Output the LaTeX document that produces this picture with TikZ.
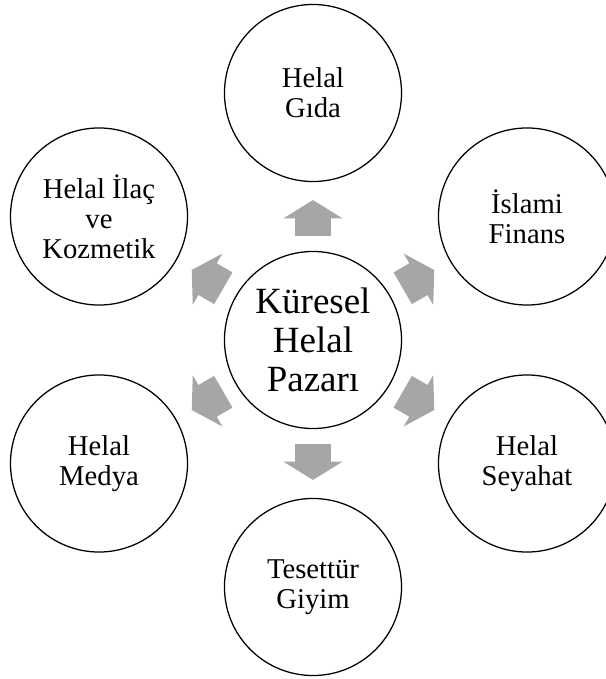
\documentclass[tikz,border=0pt]{standalone}
\usepackage{fontspec}
\setmainfont{Liberation Serif}
\usetikzlibrary{arrows.meta, calc}
\tikzstyle{market} = [circle, draw=black, line width=0.9pt, minimum size=4.425cm,
                      inner sep=0pt, align=center, font=\fontsize{26.3}{27.6}\selectfont]
\tikzstyle{sector} = [circle, draw=black, line width=0.9pt, minimum size=4.425cm,
                      inner sep=0pt, align=center, font=\fontsize{20.4}{21.3}\selectfont]
\tikzstyle{flow}   = [draw=gray!70, line width=0.915cm,
                      -{Triangle[length=0.4575cm, width=1.475cm, line width=1.2pt]},
                      shorten <=0.36cm, shorten >=0.4475cm]

\begin{document}
\begin{tikzpicture}[x=0.025cm, y=0.025cm]
  \useasboundingbox (0,0) rectangle (606,-679);

  % --- Centre ---
  \node (pazar) [market] at (313,-340) {Küresel\\Helal\\Pazarı};

  % --- Sectors ---
  \node (gida)    [sector] at (313,-93)  {Helal\\Gıda};
  \node (finans)  [sector] at (527,-216.5) {İslami\\Finans};
  \node (seyahat) [sector] at (527,-463.5) {Helal\\Seyahat};
  \node (giyim)   [sector] at (313,-587) {Tesettür\\Giyim};
  \node (medya)   [sector] at (99,-463.5)  {Helal\\Medya};
  \node (ilac)    [sector] at (99,-216.5)  {Helal İlaç\\ve\\Kozmetik};

  % Arrows
  \draw[flow] (pazar) -- (gida);
  \draw[flow] (pazar) -- (finans);
  \draw[flow] (pazar) -- (seyahat);
  \draw[flow] (pazar) -- (giyim);
  \draw[flow] (pazar) -- (medya);
  \draw[flow] (pazar) -- (ilac);

\end{tikzpicture}
\end{document}
